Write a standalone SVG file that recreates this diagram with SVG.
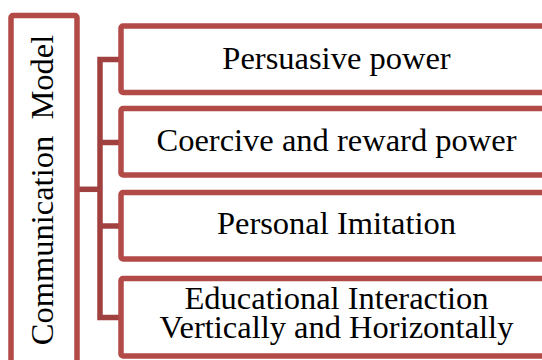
<svg xmlns="http://www.w3.org/2000/svg" width="542" height="360" viewBox="0 0 542 360">
<style>
.box{fill:#ffffff;stroke:#b24a48;stroke-width:5.5}
.conn{fill:none;stroke:#a04140;stroke-width:5.5;stroke-linejoin:miter}
text{font-family:'Liberation Serif','DejaVu Serif',serif;font-size:32.5px;fill:#000000;text-anchor:middle}
</style>
<rect width="542" height="360" fill="#ffffff"/>
<g id="connectors">
<path class="conn" d="M77 189.3 H100"/>
<path class="conn" d="M121 59.5 H100 V317.5 H121"/>
<path class="conn" d="M100 142.5 H121"/>
<path class="conn" d="M100 226 H121"/>
</g>
<g id="communication-model">
<rect class="box" x="11" y="15.5" width="66" height="350" rx="2"/>
<text font-family="Liberation Serif, serif" transform="translate(53,190) rotate(-90)" xml:space="preserve">Communication  Model</text>
</g>
<g id="persuasive-power">
<rect class="box" x="121" y="26" width="434" height="66.5" rx="2"/>
<text font-family="Liberation Serif, serif" x="336.5" y="69">Persuasive power</text>
</g>
<g id="coercive-reward-power">
<rect class="box" x="121" y="108.5" width="434" height="66.5" rx="2"/>
<text font-family="Liberation Serif, serif" x="336.5" y="150.5">Coercive and reward power</text>
</g>
<g id="personal-imitation">
<rect class="box" x="121" y="192.5" width="434" height="66.5" rx="2"/>
<text font-family="Liberation Serif, serif" x="336.5" y="234.3">Personal Imitation</text>
</g>
<g id="educational-interaction">
<rect class="box" x="121" y="278.5" width="434" height="77.5" rx="2"/>
<text font-family="Liberation Serif, serif" x="336.5" y="309.3">Educational Interaction</text>
<text font-family="Liberation Serif, serif" x="336.5" y="338">Vertically and Horizontally</text>
</g>
</svg>
